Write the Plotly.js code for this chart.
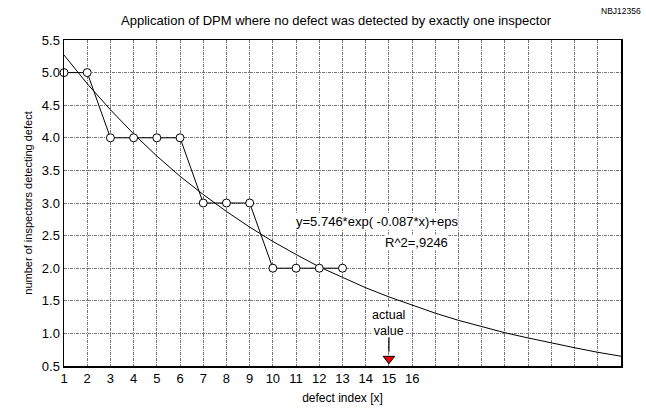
<!DOCTYPE html>
<html>
<head>
<meta charset="utf-8">
<script src="https://cdn.plot.ly/plotly-3.0.1.min.js"></script>
<style>html,body{margin:0;padding:0;background:#fff;}#chart{width:646px;height:410px;}</style>
</head>
<body>
<div id="chart"></div>
<script>
// Observed data: number of inspectors detecting each defect
const defectIndex = [1, 2, 3, 4, 5, 6, 7, 8, 9, 10, 11, 12, 13];
const inspectors  = [5, 5, 4, 4, 4, 4, 3, 3, 3, 2, 2, 2, 2];

// Fitted curve (y = 5.746*exp(-0.087*x))
const curveX = [1, 2, 3, 4, 5, 6, 7, 8, 9, 10, 11, 12, 13, 14, 15, 16, 17, 18, 19, 20, 21, 22, 23, 24, 25];
const curveY = [5.27, 4.83, 4.43, 4.06, 3.72, 3.41, 3.13, 2.87, 2.63, 2.41, 2.21, 2.02, 1.86, 1.70, 1.56, 1.43, 1.31, 1.20, 1.10, 1.01, 0.93, 0.85, 0.78, 0.71, 0.65];

// Actual value
const actualValueX = [15];

// Tick labels
const xTickVals = [1, 2, 3, 4, 5, 6, 7, 8, 9, 10, 11, 12, 13, 14, 15, 16, 17, 18, 19, 20, 21, 22, 23, 24];
const xTickLabels = ['1', '2', '3', '4', '5', '6', '7', '8', '9', '10', '11', '12', '13', '14', '15', '16'];
const yTickVals = [0.5, 1.0, 1.5, 2.0, 2.5, 3.0, 3.5, 4.0, 4.5, 5.0, 5.5];

const FONT = 'Arial, "Liberation Sans", sans-serif';
const GRID = {showgrid: true, gridcolor: '#555', gridwidth: 0.8, griddash: '3px,1px,1px,1px'};

const traces = [
  {
    x: curveX, y: curveY, type: 'scatter', mode: 'lines',
    line: {color: '#000', width: 1}, hoverinfo: 'skip'
  },
  {
    x: defectIndex, y: inspectors, type: 'scatter', mode: 'lines+markers',
    line: {color: '#000', width: 1},
    marker: {symbol: 'circle', size: 8, color: '#fff', line: {color: '#000', width: 1}},
    cliponaxis: false
  },
  {
    x: actualValueX, y: actualValueX.map(() => 0.61), type: 'scatter', mode: 'markers',
    marker: {symbol: 'triangle-down', size: 10, color: '#ee0000', line: {color: '#000', width: 1}},
    cliponaxis: false
  }
];

const layout = {
  width: 646, height: 410,
  margin: {l: 64, r: 25, t: 40, b: 44},
  paper_bgcolor: '#fff', plot_bgcolor: '#fff',
  showlegend: false,
  font: {family: FONT, size: 13, color: '#000'},
  title: {
    text: 'Application of DPM where no defect was detected by exactly one inspector',
    font: {family: FONT, size: 13, color: '#000'},
    x: 336 / 646, xanchor: 'center', xref: 'container',
    y: 1 - 20 / 410, yanchor: 'middle', yref: 'container'
  },
  xaxis: Object.assign({
    range: [1, 25], tickmode: 'array', tickvals: xTickVals,
    ticktext: xTickVals.map((v, i) => xTickLabels[i] || ''),
    showline: true, linecolor: '#000', linewidth: 1.5, mirror: true,
    ticks: '', zeroline: false,
    tickfont: {family: FONT, size: 13, color: '#000'},
    title: {text: 'defect index [x]', font: {family: FONT, size: 12, color: '#000'}, standoff: 8}
  }, GRID),
  yaxis: Object.assign({
    range: [0.5, 5.5], tickmode: 'array', tickvals: yTickVals,
    ticktext: yTickVals.map(v => v.toFixed(1)),
    showline: true, linecolor: '#000', linewidth: 1.5, mirror: true,
    ticks: '', zeroline: false,
    tickfont: {family: FONT, size: 13, color: '#000'},
    title: {text: 'number of inspectors detecting defect', font: {family: FONT, size: 11, color: '#000'}, standoff: 7}
  }, GRID),
  annotations: [
    {
      x: 14.5, y: 2.71, xref: 'x', yref: 'y', showarrow: false,
      text: 'y=5.746*exp( -0.087*x)+eps', font: {family: FONT, size: 13, color: '#000'},
      bgcolor: '#fff', borderpad: 0
    },
    {
      x: 16.17, y: 2.40, xref: 'x', yref: 'y', showarrow: false,
      text: 'R^2=,9246', font: {family: FONT, size: 13, color: '#000'},
      bgcolor: '#fff', borderpad: 0
    },
    {
      x: actualValueX[0], y: 1.16, xref: 'x', yref: 'y', showarrow: false,
      text: 'actual<br>value', font: {family: FONT, size: 12.5, color: '#000'},
      bgcolor: '#fff', borderpad: 0
    },
    {
      x: actualValueX[0], y: 0.72, xref: 'x', yref: 'y',
      ax: 0, ay: -16, axref: 'pixel', ayref: 'pixel',
      showarrow: true, arrowhead: 0, arrowwidth: 1.2, arrowcolor: '#000', text: ''
    },
    {
      x: (643 - 64) / 557, y: 1, xref: 'paper', yref: 'paper', showarrow: false,
      text: 'NBJ12356', font: {family: FONT, size: 8.5, color: '#000'},
      xanchor: 'right', yanchor: 'middle', yshift: 29
    }
  ]
};

Plotly.newPlot('chart', traces, layout, {displayModeBar: false, staticPlot: true});
</script>
</body>
</html>
